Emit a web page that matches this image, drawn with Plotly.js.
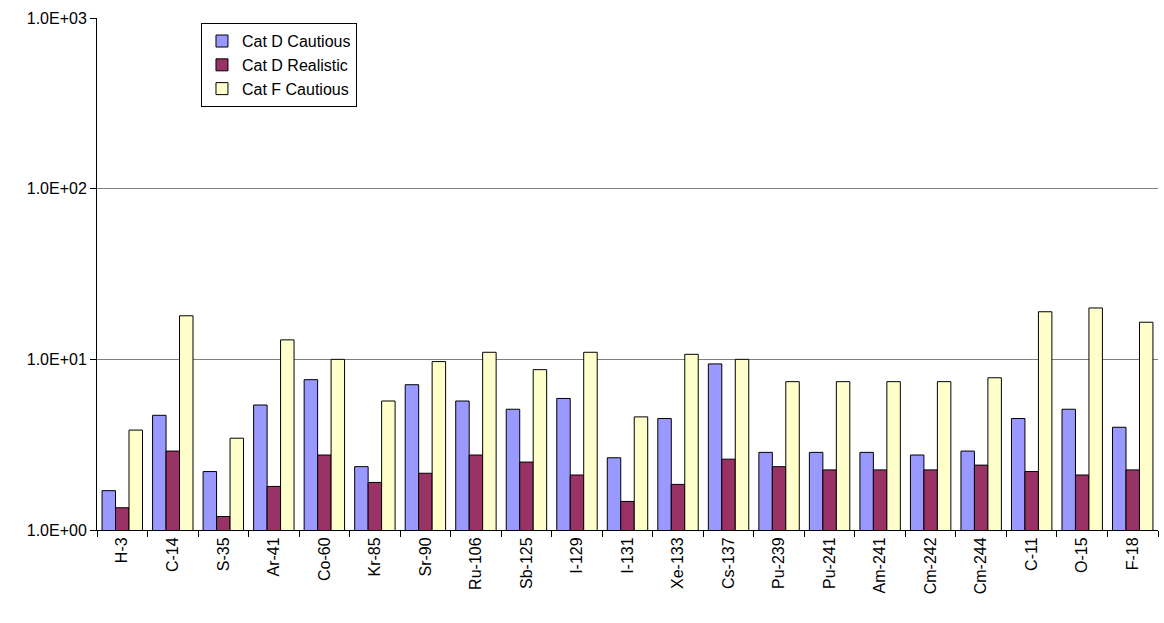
<!DOCTYPE html>
<html><head><script src="https://cdn.plot.ly/plotly-3.0.1.min.js"></script></head>
<body style="margin:0"><div id="chart" style="width:1164px;height:623px"></div>
<script>
const nuclides = ['H-3','C-14','S-35','Ar-41','Co-60','Kr-85','Sr-90','Ru-106','Sb-125','I-129','I-131','Xe-133','Cs-137','Pu-239','Pu-241','Am-241','Cm-242','Cm-244','C-11','O-15','F-18']
const catDCautious = [1.7,4.7,2.2,5.4,7.6,2.35,7.1,5.7,5.1,5.9,2.65,4.5,9.4,2.85,2.85,2.85,2.75,2.9,4.5,5.1,4.0]
const catDRealistic = [1.35,2.9,1.2,1.8,2.75,1.9,2.15,2.75,2.5,2.1,1.47,1.85,2.6,2.35,2.25,2.25,2.25,2.4,2.2,2.1,2.25]
const catFCautious = [3.85,18,3.45,13,10,5.7,9.7,11,8.7,11,4.6,10.7,10,7.4,7.4,7.4,7.4,7.8,19,20,16.5]

function bar(name, y, color) {
    return {type: 'bar', name: name, x: nuclides, y: y,
        marker: {color: color, line: {color: '#000', width: 1}}}
}
const data = [
    bar('Cat D Cautious', catDCautious, '#9999FF'),
    bar('Cat D Realistic', catDRealistic, '#993366'),
    bar('Cat F Cautious', catFCautious, '#FFFFCC'),
]
const layout = {
    width: 1164, height: 623,
    margin: {l: 97, r: 6, t: 18, b: 93},
    font: {family: 'Liberation Sans, Arial', size: 16, color: '#000'},
    barmode: 'group', bargap: 0.2, bargroupgap: 0,
    plot_bgcolor: '#fff', paper_bgcolor: '#fff',
    showlegend: true,
    legend: {x: 0.098, y: 0.99, xanchor: 'left', yanchor: 'top', bordercolor: '#000', borderwidth: 1,
        font: {size: 16}, tracegroupgap: 0},
    xaxis: {tickangle: -90, showline: true, linecolor: '#000', ticks: 'outside', ticklen: 6,
        tickcolor: '#000', tickson: 'boundaries'},
    yaxis: {type: 'log', range: [0, 3], tickvals: [1, 10, 100, 1000],
        ticktext: ['1.0E+00','1.0E+01','1.0E+02','1.0E+03'],
        showgrid: true, gridcolor: '#808080', gridwidth: 1, showline: true, linecolor: '#000',
        ticks: 'outside', ticklen: 6, tickcolor: '#000', zeroline: false}
}
Plotly.newPlot('chart', data, layout, {displayModeBar: false})
</script></body></html>
